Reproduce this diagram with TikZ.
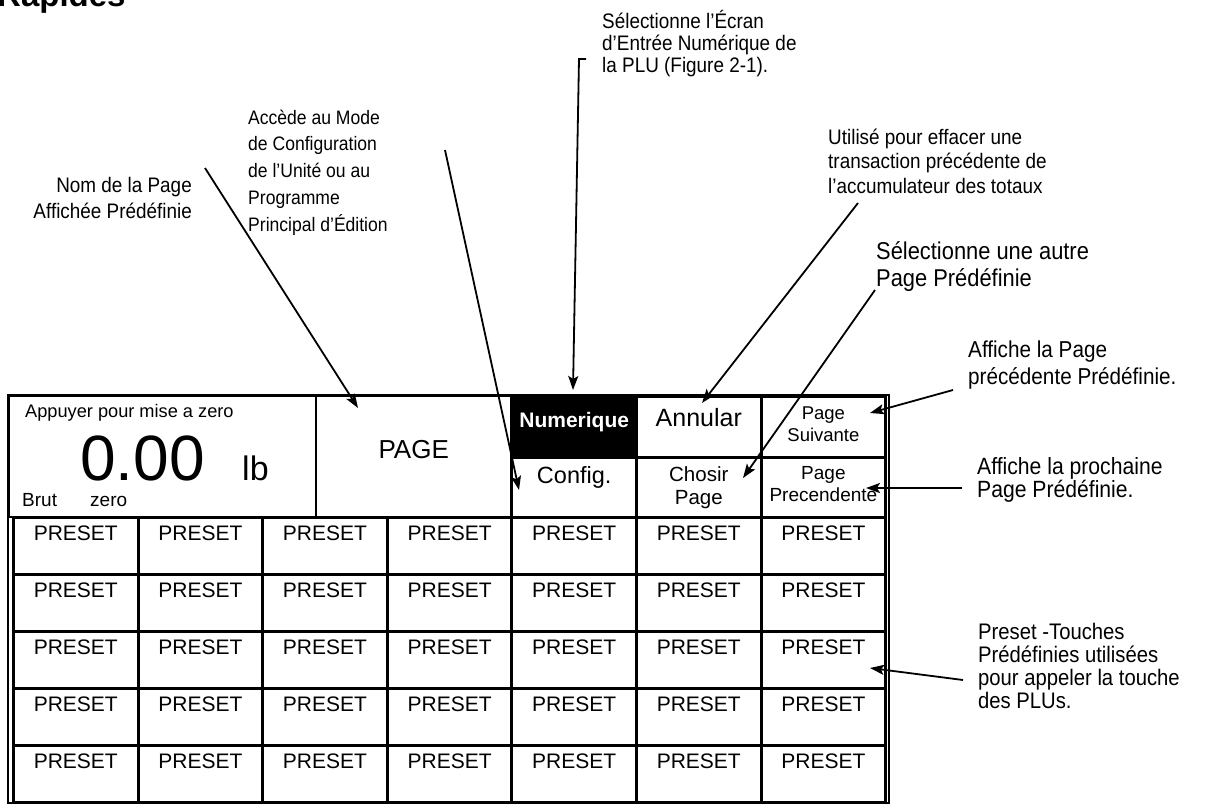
\documentclass[tikz,border=0pt]{standalone}
\usepackage{fontspec}
\setmainfont{Liberation Sans}
\newfontfamily\notefont[FakeStretch=0.9]{Liberation Sans}
\usetikzlibrary{arrows.meta}

% stacked lines with a fixed baseline distance; the box baseline is the first line
\newcommand\linesL[2]{\vtop{\baselineskip=#1\relax\halign{##\hfil\cr#2\crcr}}}
\newcommand\linesR[2]{\vtop{\baselineskip=#1\relax\halign{\hfil##\cr#2\crcr}}}
\newcommand\linesC[2]{\vtop{\baselineskip=#1\relax\halign{\hfil##\hfil\cr#2\crcr}}}

\tikzset{
  keybox/.style={draw, line width=3pt, inner xsep=0pt, inner ysep=0pt, anchor=north west, align=center},
  presetkey/.style={keybox, minimum width=124.6pt, text height=23pt, text depth=34pt,
    font=\fontsize{21}{25}\selectfont},
  note/.style={anchor=base west, inner sep=0pt},
  pointer/.style={line width=1.8pt, -{Stealth[length=14pt,width=10pt,inset=3pt]}},
  txt/.style={anchor=base west, inner sep=0pt},
}

\begin{document}
\begin{tikzpicture}[x=1pt,y=-1pt]
\useasboundingbox (0,0) rectangle (1205,804);

% heading running off the top edge
\node[txt, font=\bfseries\fontsize{33}{33}\selectfont] (heading) at (-3,6) {Rapides};

% ---------- preset key grid ----------
\foreach \r in {0,...,4}{
  \foreach \c in {0,...,6}{
    \node[presetkey] (p\r\c) at ({12+124.6*\c},{516+57*\r}) {PRESET};
  }
}

% ---------- weight display ----------
\node[draw, line width=2pt, inner sep=0pt, anchor=north west, minimum width=307pt, minimum height=121pt] (display) at (8,395) {};
\node[txt, font=\fontsize{18.2}{20}\selectfont] (zerohint) at (25,417) {Appuyer pour mise a zero};
\node[txt, font=\fontsize{64}{64}\selectfont] (weight) at (80,480) {0.00};
\node[txt, font=\fontsize{34}{34}\selectfont] (unit) at (242,480) {lb};
\node[txt, font=\fontsize{19}{20}\selectfont] (brut) at (22,506) {Brut};
\node[txt, font=\fontsize{19}{20}\selectfont] (zeroflag) at (90,506) {zero};

% ---------- page name ----------
\node[keybox, line width=2pt, minimum width=195.4pt, text height=62pt, text depth=59pt,
  font=\fontsize{26}{28}\selectfont] (pagename) at (315,395) {PAGE};

% ---------- function keys ----------
\node[keybox, fill=black, text=white, minimum width=124.6pt, text height=31pt, text depth=30pt,
  font=\bfseries\fontsize{21}{24}\selectfont] (numerique) at (510.4,395) {Numerique};
\node[keybox, minimum width=124.6pt, text height=30pt, text depth=31pt,
  font=\fontsize{25}{28}\selectfont] (annular) at (635,395) {Annular};
\node[keybox, minimum width=124.6pt, text height=23pt, text depth=38pt,
  font=\fontsize{18.5}{22}\selectfont] (suivante) at (759.6,395) {\linesC{22pt}{Page\cr Suivante}};
\node[keybox, minimum width=124.6pt, text height=26pt, text depth=34pt,
  font=\fontsize{23.5}{26}\selectfont] (config) at (510.4,456) {Config.};
\node[keybox, minimum width=124.6pt, text height=24pt, text depth=36pt,
  font=\fontsize{20.5}{23}\selectfont] (chosir) at (635,456) {\linesC{23pt}{Chosir\cr Page}};
\node[keybox, minimum width=124.6pt, text height=22pt, text depth=38pt,
  font=\fontsize{19}{22}\selectfont] (precedente) at (759.6,456) {\linesC{22pt}{Page\cr Precendente}};

% ---------- outer frame ----------
\draw[line width=2pt] (8,395) rectangle (888.5,802.5);

% ---------- callouts ----------
\node[note, font=\notefont\fontsize{21}{22}\selectfont] (n-num) at (602,28)
  {\linesL{22pt}{Sélectionne l’Écran\cr d’Entrée Numérique de\cr la PLU (Figure 2-1).}};
\node[note, font=\notefont\fontsize{19.5}{22}\selectfont] (n-config) at (248,124)
  {\linesL{26.8pt}{Accède au Mode\cr de Configuration\cr de l’Unité ou au\cr Programme\cr Principal d’Édition}};
\node[note, anchor=base east, font=\notefont\fontsize{21}{22}\selectfont] (n-page) at (192,192)
  {\linesR{26pt}{Nom de la Page\cr Affichée Prédéfinie}};
\node[note, font=\notefont\fontsize{21}{22}\selectfont] (n-annular) at (828,144)
  {\linesL{24.5pt}{Utilisé pour effacer une\cr transaction précédente de\cr l’accumulateur des totaux}};
\node[note, font=\notefont\fontsize{24.3}{25}\selectfont] (n-chosir) at (876,259)
  {\linesL{27pt}{Sélectionne une autre\cr Page Prédéfinie}};
\node[note, font=\notefont\fontsize{23}{24}\selectfont] (n-suivante) at (968,357)
  {\linesL{27pt}{Affiche la Page\cr précédente Prédéfinie.}};
\node[note, font=\notefont\fontsize{23.5}{24}\selectfont] (n-precedente) at (977,474)
  {\linesL{23.5pt}{Affiche la prochaine\cr Page Prédéfinie.}};
\node[note, font=\notefont\fontsize{22.5}{23}\selectfont] (n-preset) at (978,639)
  {\linesL{23pt}{Preset -Touches\cr Prédéfinies utilisées\cr pour appeler la touche\cr des PLUs.}};

% connector end points
\coordinate (a-num-tick) at (586,59);
\coordinate (a-num-bend) at (579,59);
\coordinate (a-num-tip) at (573,390);
\coordinate (a-config-start) at (445,150);
\coordinate (a-config-tip) at (519,490);
\coordinate (a-page-start) at (205,168);
\coordinate (a-page-tip) at (358,408);
\coordinate (a-annular-start) at (858,203);
\coordinate (a-annular-tip) at (702,403);
\coordinate (a-chosir-start) at (875,290);
\coordinate (a-chosir-tip) at (743,478);
\coordinate (a-suivante-start) at (953,390);
\coordinate (a-suivante-tip) at (870,413);
\coordinate (a-precedente-start) at (962,488);
\coordinate (a-precedente-tip) at (866,488);
\coordinate (a-preset-start) at (963,680);
\coordinate (a-preset-tip) at (870,668);

\draw[pointer] (a-num-tick) -- (a-num-bend) -- (a-num-tip);
\draw[pointer] (a-config-start) -- (a-config-tip);
\draw[pointer] (a-page-start) -- (a-page-tip);
\draw[pointer] (a-annular-start) -- (a-annular-tip);
\draw[pointer] (a-chosir-start) -- (a-chosir-tip);
\draw[pointer] (a-suivante-start) -- (a-suivante-tip);
\draw[pointer] (a-precedente-start) -- (a-precedente-tip);
\draw[pointer] (a-preset-start) -- (a-preset-tip);
\end{tikzpicture}
\end{document}
